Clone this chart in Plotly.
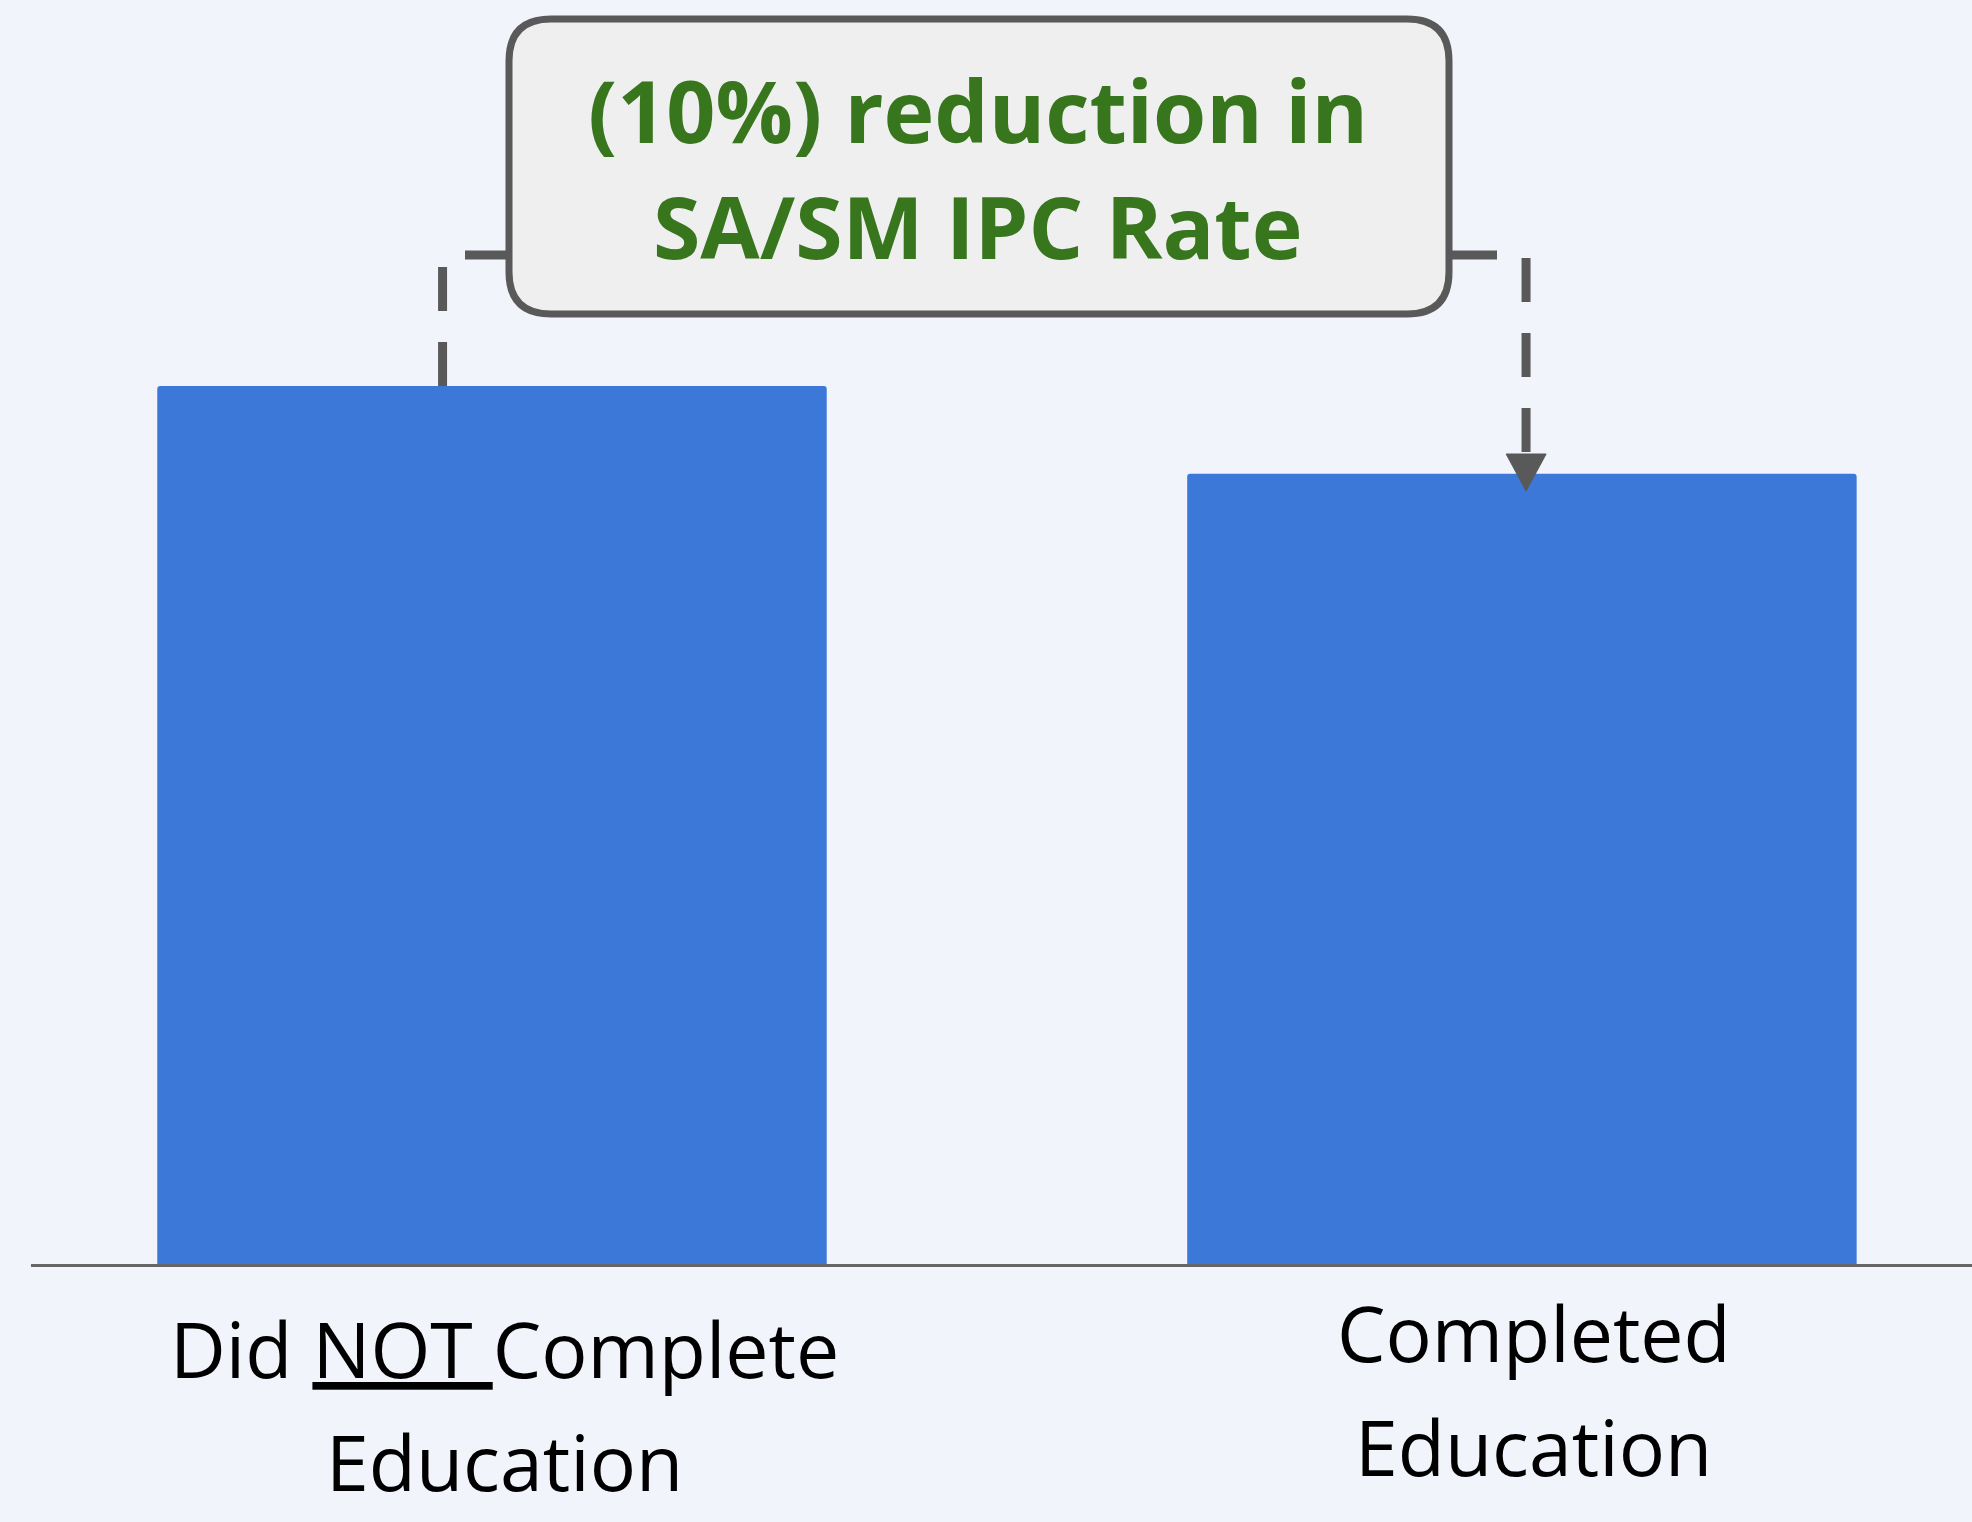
import plotly.graph_objects as go

# ---- data ----
categories = ["Did NOT Complete Education", "Completed Education"]
label_lines = [["Did <u>NOT </u>Complete", "Education"], ["Completed", "Education"]]
ipc_rate_index = [100, 90]
callout_lines = ["(10%) reduction in", "SA/SM IPC Rate"]

# ---- styling / layout constants ----
W, H = 1972, 1522
ML, MR, MT, MB = 31, 0, 0, 258
PW, PH = W - ML - MR, H - MT - MB
BG = "#F1F4FB"
BAR = "#3C78D8"
GREEN = "#38761D"
LINE = "#595959"
Y_MAX = 143.96
X_RANGE = [-0.4476, 1.437]


def px(x):
    return (x - ML) / PW


def py(y):
    return (H - MB - y) / PH


def ydata(y):
    return (H - MB - y) / PH * Y_MAX


fig = go.Figure()
fig.add_trace(go.Bar(
    x=categories, y=ipc_rate_index, width=0.65,
    marker=dict(color=BAR, line=dict(width=0), cornerradius=3),
    hoverinfo="skip", showlegend=False,
))

shapes = []
# rounded callout box
x0, x1, y0, y1 = px(509), px(1449), py(314), py(19)
rx, ry = 42 / PW, 42 / PH
path = (f"M {x0+rx},{y1} L {x1-rx},{y1} Q {x1},{y1} {x1},{y1-ry} "
        f"L {x1},{y0+ry} Q {x1},{y0} {x1-rx},{y0} L {x0+rx},{y0} "
        f"Q {x0},{y0} {x0},{y0+ry} L {x0},{y1-ry} Q {x0},{y1} {x0+rx},{y1} Z")
shapes.append(dict(type="path", xref="paper", yref="paper", path=path,
                   fillcolor="#EFEFEF", line=dict(color=LINE, width=7), layer="above"))
# stubs
for a, b in [(465, 509), (1449, 1497)]:
    shapes.append(dict(type="line", xref="paper", yref="paper",
                       x0=px(a), x1=px(b), y0=py(255), y1=py(255),
                       line=dict(color=LINE, width=9), layer="below"))
# left dashed vertical from bar top
lx = -0.048
shapes.append(dict(type="line", xref="x", yref="y", x0=lx, x1=lx,
                   y0=ipc_rate_index[0], y1=ydata(266),
                   line=dict(color=LINE, width=9, dash="44px,31px")))
# right dashed vertical down to arrow
rxd = 1.004
shapes.append(dict(type="line", xref="x", yref="y", x0=rxd, x1=rxd,
                   y0=ydata(258), y1=ydata(462),
                   line=dict(color=LINE, width=9, dash="44px,31px")))
# arrowhead
tipx = 492 + rxd * 1030
tri = (f"M {px(tipx-20)},{py(454)} L {px(tipx+20)},{py(454)} "
       f"L {px(tipx)},{py(491)} Z")
shapes.append(dict(type="path", xref="paper", yref="paper", path=tri,
                   fillcolor=LINE, line=dict(color=LINE, width=1)))

annotations = []
for txt, yc in zip(callout_lines, [109, 226]):
    annotations.append(dict(text=f"<b>{txt}</b>", xref="paper", yref="paper",
                            x=px(978), y=py(yc), xanchor="center", yanchor="middle",
                            showarrow=False,
                            font=dict(family="Open Sans", size=86, color=GREEN)))
label_y = [[1348, 1461], [1332, 1446]]
for cat, lines, ys in zip(categories, label_lines, label_y):
    for txt, yc in zip(lines, ys):
        annotations.append(dict(text=txt, xref="x", yref="paper", x=cat, y=py(yc),
                                xshift=12, xanchor="center", yanchor="middle",
                                showarrow=False,
                                font=dict(family="Open Sans", size=77, color="#000000")))

fig.update_layout(
    width=W, height=H,
    margin=dict(l=ML, r=MR, t=MT, b=MB, pad=0),
    paper_bgcolor=BG, plot_bgcolor=BG,
    shapes=shapes, annotations=annotations,
    xaxis=dict(range=X_RANGE, showticklabels=False, ticks="", showgrid=False,
               zeroline=False, showline=True, linecolor="#666666", linewidth=3,
               fixedrange=True),
    yaxis=dict(range=[0, Y_MAX], visible=False, showgrid=False, zeroline=False,
               fixedrange=True),
    showlegend=False,
)

fig.write_html("out.html", config={"displayModeBar": False},
               post_script="document.body.style.margin='0';document.body.style.background='" + BG + "';")
